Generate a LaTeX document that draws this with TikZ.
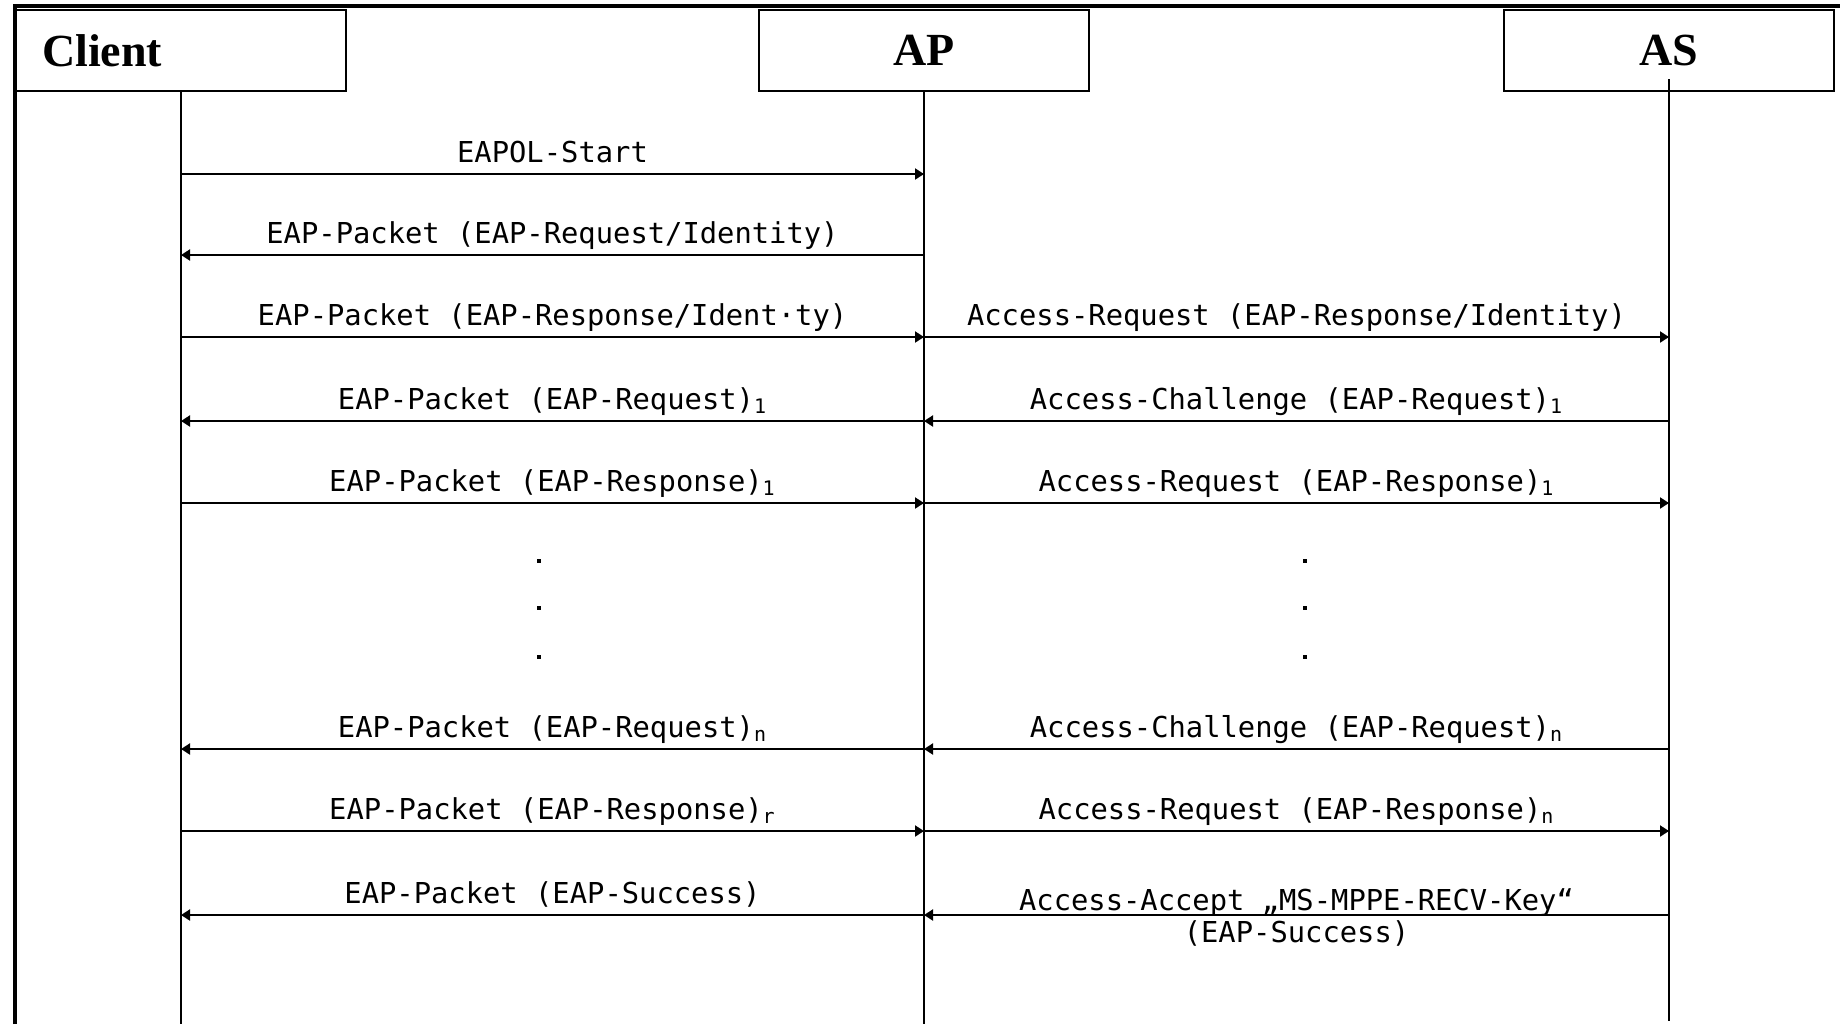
\documentclass[tikz,border=0pt]{standalone}
\usepackage{fontspec}
\setmainfont{Liberation Serif}
\newfontfamily\msgfont{DejaVu Sans Mono}
\usetikzlibrary{calc,arrows.meta}

\begin{document}
\begin{tikzpicture}[x=0.5pt,y=-0.5pt,
  hdr/.style={draw,line width=1.2pt,minimum width=165pt,minimum height=40.5pt,inner sep=0pt,font=\bfseries\fontsize{23}{23}\selectfont},
  life/.style={line width=1pt},
  msg/.style={line width=1pt,-{Triangle[length=4.5pt,width=5.5pt]}},
  lbl/.style={font=\msgfont\fontsize{14.4}{16}\selectfont,anchor=base,inner sep=0pt,yshift=#1},
  lbl/.default=6pt]
\useasboundingbox (0,0) rectangle (1840,1024);
\draw[line width=2pt] (15,1024) -- (15,6) -- (1840,6);
\node[hdr,text width=139pt,align=left] (client) at (181,50.5) {Client};
\node[hdr] (ap) at (924,50.5) {AP};
\node[hdr] (as) at (1669,50.5) {AS};
\draw[life] (client.south) -- (client.south |- 0,1024);
\draw[life] (ap.south) -- (ap.south |- 0,1024);
\draw[life] ($(as.south)+(0,-13)$) -- (as.south |- 0,1021);
\foreach \n/\y in {1/174,2/255,3/337,4/421,5/503,6/749,7/831,8/915}{
  \coordinate (c\n) at (client.south |- 0,\y);
  \coordinate (p\n) at (ap.south |- 0,\y);
  \coordinate (s\n) at (as.south |- 0,\y);
}
\draw[msg] (c1) -- node[lbl]{EAPOL-Start} (p1);
\draw[msg] (p2) -- node[lbl]{EAP-Packet (EAP-Request/Identity)} (c2);
\draw[msg] (c3) -- node[lbl]{EAP-Packet (EAP-Response/Ident·ty)} (p3);
\draw[msg] (p3) -- node[lbl]{Access-Request (EAP-Response/Identity)} (s3);
\draw[msg] (p4) -- node[lbl]{EAP-Packet (EAP-Request)\textsubscript{1}} (c4);
\draw[msg] (s4) -- node[lbl]{Access-Challenge (EAP-Request)\textsubscript{1}} (p4);
\draw[msg] (c5) -- node[lbl]{EAP-Packet (EAP-Response)\textsubscript{1}} (p5);
\draw[msg] (p5) -- node[lbl]{Access-Request (EAP-Response)\textsubscript{1}} (s5);
\foreach \y in {561,608,657}{
  \fill (537,\y-2) rectangle (541,\y+2);
  \fill (1303,\y-2) rectangle (1307,\y+2);
}
\draw[msg] (p6) -- node[lbl]{EAP-Packet (EAP-Request)\textsubscript{n}} (c6);
\draw[msg] (s6) -- node[lbl]{Access-Challenge (EAP-Request)\textsubscript{n}} (p6);
\draw[msg] (c7) -- node[lbl]{EAP-Packet (EAP-Response)\textsubscript{r}} (p7);
\draw[msg] (p7) -- node[lbl]{Access-Request (EAP-Response)\textsubscript{n}} (s7);
\draw[msg] (p8) -- node[lbl]{EAP-Packet (EAP-Success)} (c8);
\draw[msg] (s8) -- node[lbl=-13.5pt,align=center]{Access-Accept „MS-MPPE-RECV-Key“\\(EAP-Success)} (p8);
\end{tikzpicture}
\end{document}
